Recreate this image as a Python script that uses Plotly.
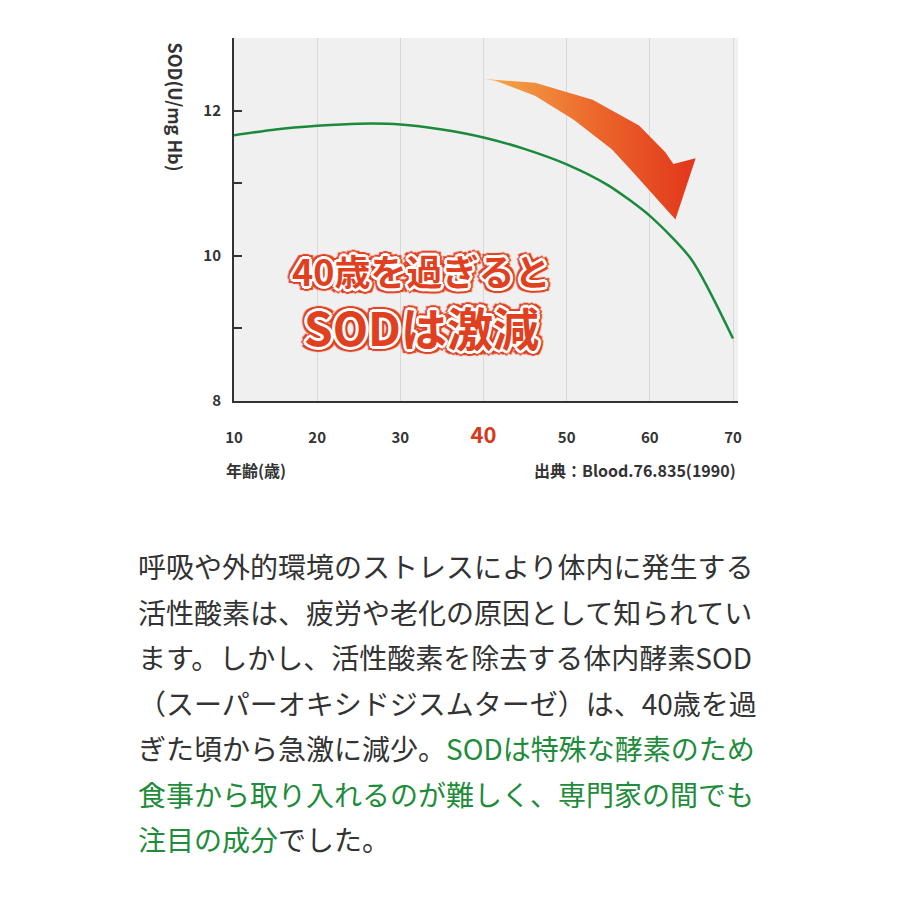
import plotly.graph_objects as go

ages = [10, 15, 20, 25, 30, 35, 40, 45, 50, 55, 60, 65, 70]
sod = [11.66, 11.74, 11.79, 11.82, 11.81, 11.74, 11.63, 11.47, 11.26, 10.97, 10.55, 9.95, 8.86]
x_ticks = [10, 20, 30, 40, 50, 60, 70]
y_ticks = [8, 9, 10, 11, 12]
y_labels = ["8", "", "10", "", "12"]

# decorative arrow outline, in page pixels of the reference
arrow_px = [482, 532, 589, 635, 661, 669, 691, 671, 627, 608, 570, 532, 493, 482]
arrow_py = [76, 80, 97, 123, 150, 162, 156, 218, 168, 147, 117, 93, 78, 76]

def px2x(p):
    return 10 + (p - 234) / (494 / 60)

def py2y(p):
    return 8 + (401 - p) / 73.25

FONT = "Noto Sans CJK JP"
fig = go.Figure()
fig.add_trace(go.Scatter(x=[px2x(p) for p in arrow_px], y=[py2y(p) for p in arrow_py], mode="lines", fill="toself",
                         line=dict(width=0),
                         fillgradient=dict(type="horizontal", colorscale=[[0, "#f4ab4a"], [0.5, "#ec6a2c"], [1, "#e2361c"]]),
                         hoverinfo="skip", showlegend=False))
fig.add_trace(go.Scatter(x=ages, y=sod, mode="lines", line=dict(color="#1a8a3c", width=2.5, shape="spline", smoothing=0.7),
                         showlegend=False))

OFF = 8  # page body offset
L, R, T, B = 234 - OFF, 162 + OFF, 38 - OFF, 499 + OFF
fig.update_layout(
    width=900, height=900, autosize=False,
    margin=dict(l=L, r=R, t=T, b=B),
    paper_bgcolor="white", plot_bgcolor="#f0f0f0",
    font=dict(family=FONT, color="#333"),
    xaxis=dict(range=[10, 70.6], tickvals=x_ticks,
               ticktext=[("<span style='color:#d63a1a;font-size:22px'>40</span>" if v == 40 else str(v)) for v in x_ticks],
               tickfont=dict(size=15, weight="bold", color="#333"), ticklabelstandoff=22,
               showgrid=True, gridcolor="#d8d8d8", gridwidth=1, showline=True, linecolor="#333", linewidth=2,
               zeroline=False, ticks=""),
    yaxis=dict(range=[8, 13], tickvals=y_ticks, ticktext=y_labels, tickfont=dict(size=15, weight="bold", color="#333"),
               showgrid=False, showline=True, linecolor="#333", linewidth=2, zeroline=False,
               ticks="inside", ticklen=8, tickwidth=2, tickcolor="#333", ticklabelstandoff=8),
)

anns = [
    dict(x=175, y=40, text="SOD(U/mg Hb)", textangle=90, xanchor="center", yanchor="top", font=dict(size=18, weight="bold")),
    dict(x=224, y=470, text="年齢(歳)", xanchor="left", yanchor="middle", font=dict(size=16, weight="bold")),
    dict(x=738, y=470, text="出典：Blood.76.835(1990)", xanchor="right", yanchor="middle", font=dict(size=16, weight="bold")),
]
shadow = ("0 0 2px #fff, 2px 2px 0 #fff, -2px -2px 0 #fff, 2px -2px 0 #fff, -2px 2px 0 #fff, 0 3px 0 #fff, 0 -3px 0 #fff, "
          "3px 0 0 #fff, -3px 0 0 #fff, 4px 4px 1px #e04020, -4px -4px 1px #e04020, 4px -4px 1px #e04020, "
          "-4px 4px 1px #e04020, 0 5px 1px #e04020, 0 -5px 1px #e04020, 5px 0 1px #e04020, -5px 0 1px #e04020")
anns.append(dict(x=421, y=270, text="40歳を過ぎると", xanchor="center", yanchor="middle",
                 font=dict(size=36, weight="bold", color="#e04020", shadow=shadow)))
anns.append(dict(x=421, y=326, text="SODは激減", xanchor="center", yanchor="middle",
                 font=dict(size=46, weight="bold", color="#e04020", shadow=shadow)))

G = "<span style='color:#1e8c3a'>"
lines = [
    "呼吸や外的環境のストレスにより体内に発生する",
    "活性酸素は、疲労や老化の原因として知られてい",
    "ます。しかし、活性酸素を除去する体内酵素SOD",
    "（スーパーオキシドジスムターゼ）は、40歳を過",
    "ぎた頃から急激に減少。" + G + "SODは特殊な酵素のため</span>",
    G + "食事から取り入れるのが難しく、専門家の間でも</span>",
    G + "注目の成分</span>でした。",
]
for i, t in enumerate(lines):
    anns.append(dict(x=136, y=566 + i * 45.5, text=t, xanchor="left", yanchor="middle",
                     font=dict(size=28, color="#333")))
W = 900 - L - R
H = 900 - T - B
for a in anns:
    a.update(xref="paper", yref="paper", showarrow=False)
    a["x"] = (a["x"] - OFF - L) / W
    a["y"] = (900 - B - (a["y"] - OFF)) / H
fig.update_layout(annotations=anns)
fig.write_html("out.html")
